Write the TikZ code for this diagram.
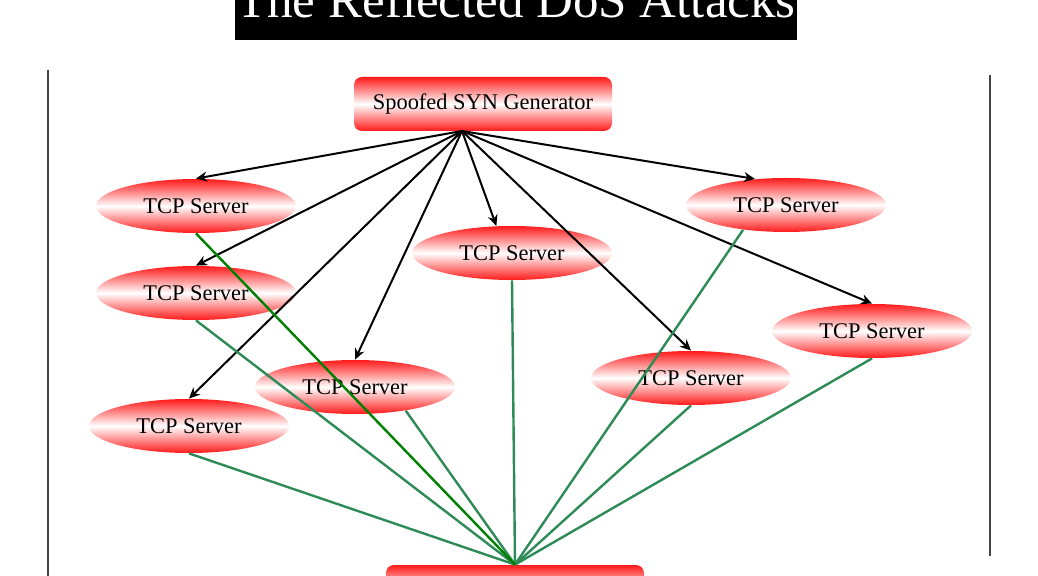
\documentclass[tikz,border=0pt]{standalone}
\usepackage{fontspec}
\setmainfont{Liberation Serif}
\usepackage{tikz}
\usetikzlibrary{arrows.meta,shapes.geometric}
\definecolor{crojo}{HTML}{FF1A1A}
\definecolor{cverde}{HTML}{2E8B57}
\definecolor{cverdeo}{HTML}{008000}
\definecolor{cgris}{HTML}{444444}
\tikzset{
  caja/.style={rectangle, rounded corners=4pt, top color=crojo, bottom color=crojo,
    middle color=white, minimum width=129pt, minimum height=27pt, inner sep=0pt,
    font=\fontsize{11.2}{13}\selectfont},
  servidor/.style={ellipse, top color=crojo, bottom color=crojo, middle color=white,
    minimum width=100pt, minimum height=27pt, inner sep=0pt,
    font=\fontsize{11.2}{13}\selectfont},
  titulo/.style={rectangle, fill=black, text=white, minimum width=281pt,
    minimum height=40pt, inner sep=0pt, font=\fontsize{25.5}{28}\selectfont},
  flecha/.style={-{Stealth[length=5.5pt,width=5pt]}, line width=1pt, draw=black},
  linea/.style={line width=1.2pt, draw=cverde},
  lineao/.style={line width=1.2pt, draw=cverdeo},
  borde/.style={line width=1pt, draw=cgris},
}

\begin{document}
\begin{tikzpicture}[x=0.5pt,y=-0.5pt]
  \useasboundingbox (0,0) rectangle (1038,576);
  \node[titulo] (tit) at (516,0) {The Reflected DoS Attacks};
  \draw[borde] (48,70) -- (48,580);
  \draw[borde] (990,75) -- (990,556);
  % generador y victima
  \node[caja] (gen) at (483,104) {Spoofed SYN Generator};
  \node[caja] (vic) at (515,592) {};
  % servidores
  \node[servidor] (s1) at (196,206) {TCP Server};
  \node[servidor] (s2) at (196,293) {TCP Server};
  \node[servidor] (s3) at (512,253) {TCP Server};
  \node[servidor] (s4) at (355,387) {TCP Server};
  \node[servidor] (s5) at (189,426) {TCP Server};
  \node[servidor] (s6) at (691,378) {TCP Server};
  \node[servidor] (s7) at (872,331) {TCP Server};
  \node[servidor] (s8) at (786,205) {TCP Server};
  \coordinate (src) at (462,131);
  \draw[flecha] (src) -- (s1.north);
  \draw[flecha] (src) -- (s2.north);
  \draw[flecha] (src) -- (s3.120);
  \draw[flecha] (src) -- (s4.north);
  \draw[flecha] (src) -- (s5.north);
  \draw[flecha] (src) -- (s6.north);
  \draw[flecha] (src) -- (s7.north);
  \draw[flecha] (src) -- (s8.140);
  % respuestas
  \draw[linea] (s2.south) -- (vic.north);
  \draw[linea] (s3.south) -- (vic.north);
  \draw[linea] (s4.-25) -- (vic.north);
  \draw[linea] (s5.south) -- (vic.north);
  \draw[linea] (s6.south) -- (vic.north);
  \draw[linea] (s7.south) -- (vic.north);
  \draw[linea] (s8.-150) -- (vic.north);
  \draw[lineao] (s1.south) -- (vic.north);
\end{tikzpicture}
\end{document}
